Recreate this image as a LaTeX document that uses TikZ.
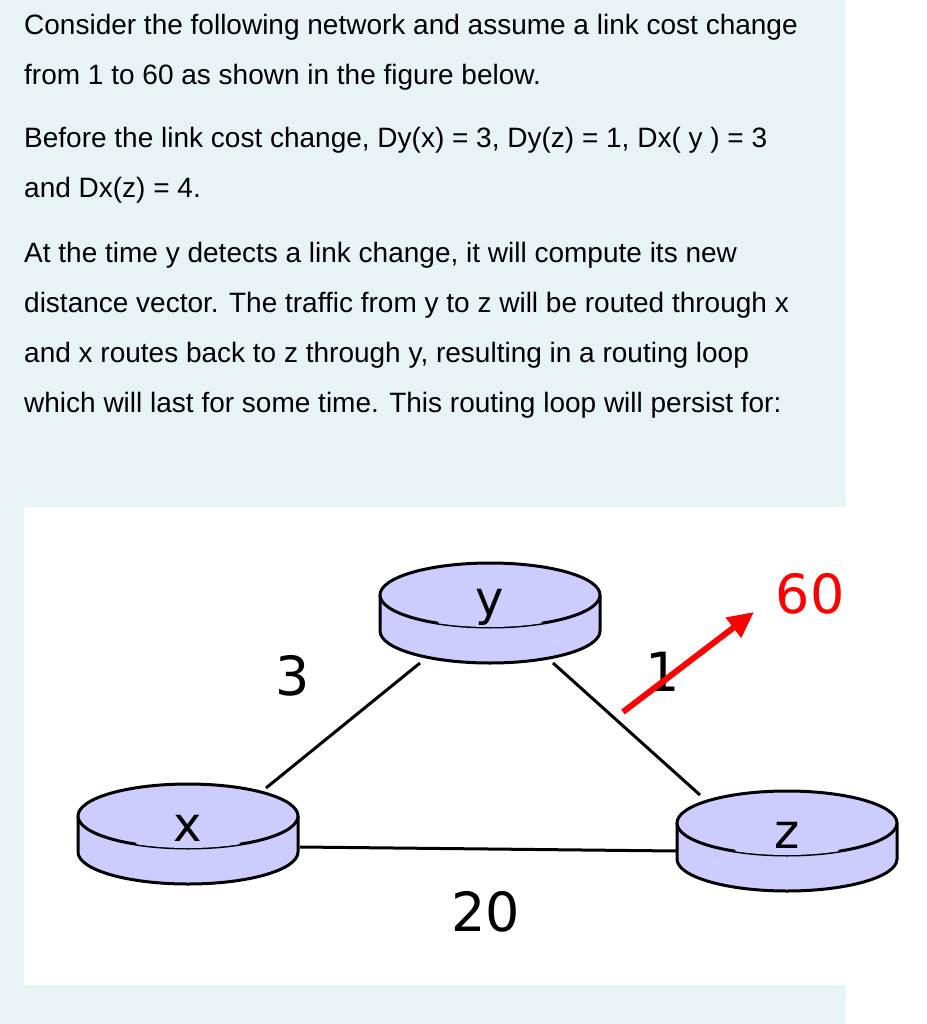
\documentclass[tikz,border=0pt]{standalone}
\usepackage{fontspec}
\setmainfont{Liberation Sans}
\newfontfamily\labelfont{DejaVu Sans}
\usetikzlibrary{arrows.meta}

% one router: body, bottom rim, top disc with broken front edge
\newcommand{\drawrouter}[4]{%
  \fill[routerfill] (#2-110,-#3) -- (#2-110,-#3-36) arc (180:360:110 and 32)
    -- (#2+110,-#3) -- cycle;
  \draw[routerline] (#2-110,-#3) -- (#2-110,-#3-36) arc (180:360:110 and 32)
    -- (#2+110,-#3);
  \draw[routerline, fill = routerfill] (#2,-#3) ellipse (110 and 32);
  \fill[routerfill] (#2,-#3) ++(242:110 and 32) arc (242:298:110 and 32)
    -- (#2+52,-#3) -- (#2-52,-#3) -- cycle;
  \node[routerlabel] (#1) at (#2,-#3-12) {#4};
}

\begin{document}
\begin{tikzpicture}[
    x = 1pt, y = 1pt,
    line/.style = {line width = 3pt, draw = black},
    routerline/.style = {line width = 3pt, draw = black},
    routerlabel/.style = {font = \labelfont\fontsize{48}{48}\selectfont},
    cost/.style = {font = \labelfont\fontsize{54}{54}\selectfont},
    para/.style = {anchor = base west, inner sep = 0,
      font = \fontsize{28}{32}\selectfont},
  ]
  \colorlet{routerfill}{blue!20}
  \definecolor{panel}{HTML}{E8F3F5}
  \useasboundingbox (0,0) rectangle (926,-1024);
  \fill[panel] (0,0) rectangle (846,-1024);
  \fill[white] (24,-507) rectangle (846,-985);

  % question text
  \node[para] (l1) at (24,-35) {Consider the following network and assume a link cost change};
  \node[para] (l2) at (24,-85) {from 1 to 60 as shown in the figure below.};
  \node[para] (l3) at (24,-148) {Before the link cost change, Dy(x) = 3, Dy(z) = 1, Dx( y ) = 3};
  \node[para] (l4) at (24,-198) {and Dx(z) = 4.};
  \node[para] (l5) at (24,-262) {At the time y detects a link change, it will compute its new};
  \node[para] (l6) at (24,-312) {distance vector. The traffic from y to z will be routed through x};
  \node[para] (l7) at (24,-362) {and x routes back to z through y, resulting in a routing loop};
  \node[para] (l8) at (24,-412) {which will last for some time. This routing loop will persist for:};

  % routers
  \drawrouter{y}{490}{595}{y}
  \drawrouter{x}{188}{816}{x}
  \drawrouter{z}{787}{823}{z}

  % link end points
  \coordinate (xy1) at (266,-788);
  \coordinate (xy2) at (420,-663);
  \coordinate (yz1) at (553,-663);
  \coordinate (yz2) at (700,-795);
  \coordinate (xz1) at (300,-847);
  \coordinate (xz2) at (677,-851);
  \draw[line] (xy1) -- (xy2);
  \draw[line] (yz1) -- (yz2);
  \draw[line] (xz1) -- (xz2);

  \node[cost] (c3) at (293,-676) {3};
  \node[cost] (c1) at (663,-672) {1};
  \node[cost] (c20) at (486,-912) {20};
  \node[cost, text = red] (c60) at (810,-594) {60};

  \coordinate (old) at (623,-712);
  \coordinate (new) at (754,-612);
  \draw[red, line width = 6pt, -{Triangle[length=26pt, width=24pt]}] (old) -- (new);
\end{tikzpicture}
\end{document}
